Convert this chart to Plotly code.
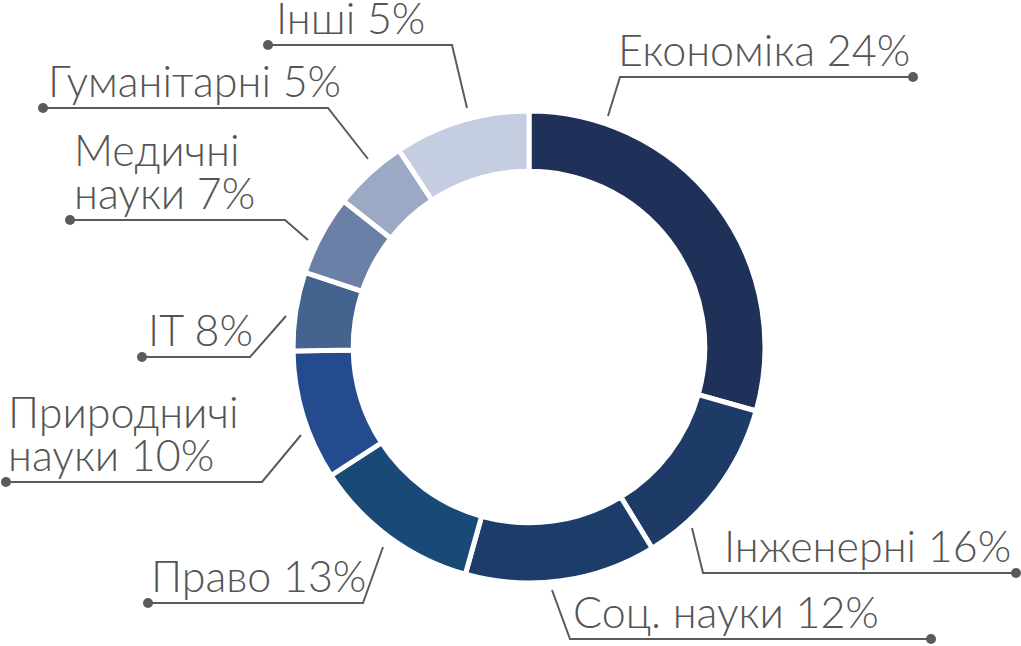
import plotly.graph_objects as go

# slice sizes as drawn (share of the ring) and the printed percentages
categories = ['Економіка', 'Інженерні', 'Соц. науки', 'Право', 'Природничі\nнауки',
              'IT', 'Медичні\nнауки', 'Гуманітарні', 'Інші']
slice_values = [29.4, 11.9, 13.1, 11.5, 8.9, 5.4, 5.5, 5.1, 9.3]
label_pct = [24, 16, 12, 13, 10, 8, 7, 5, 5]

colors = ['#1f3158', '#1d3b66', '#1c3d6a', '#194977', '#234b8e',
          '#44648f', '#6b80a7', '#9ba9c5', '#c5cde0']

W, H = 1021, 646
cx, cy, R = 529, 347, 236

# leader lines: start, elbow, end dot (pixels), label left x
leaders = [
    ((608, 116), (620, 77), (913, 77), 617),
    ((692, 528), (703, 573), (1016, 573), 723),
    ((552, 590), (570, 639), (931, 639), 572),
    ((383, 547), (363, 603), (148, 603), 150),
    ((301, 435), (262, 482), (6, 482), 7),
    ((286, 316), (250, 357), (142, 357), 147),
    ((308, 240), (285, 220), (70, 220), 73),
    ((368, 159), (328, 108), (43, 108), 47),
    ((467, 108), (452, 45), (268, 45), 275),
]

fig = go.Figure()

fig.add_trace(go.Pie(
    labels=[c.replace('\n', ' ') for c in categories],
    values=slice_values,
    hole=0.745,
    sort=False,
    direction='clockwise',
    rotation=0,
    textinfo='none',
    hoverinfo='label+percent',
    marker=dict(colors=colors, line=dict(color='white', width=5)),
    showlegend=False,
    domain=dict(x=[(cx - R) / W, (cx + R) / W],
                y=[(H - cy - R) / H, (H - cy + R) / H]),
))

line_col = '#5b5b5b'
font = dict(family='Lato, Open Sans, sans-serif', size=43, color='#555555', weight=300)

for cat, pct, (p0, p1, p2, tx) in zip(categories, label_pct, leaders):
    fig.add_trace(go.Scatter(
        x=[p0[0], p1[0], p2[0]], y=[p0[1], p1[1], p2[1]],
        mode='lines', line=dict(color=line_col, width=2),
        hoverinfo='skip', showlegend=False, cliponaxis=False))
    fig.add_trace(go.Scatter(
        x=[p2[0]], y=[p2[1]], mode='markers',
        marker=dict(color=line_col, size=10),
        hoverinfo='skip', showlegend=False, cliponaxis=False))
    lines = f'{cat} {pct}%'.split('\n')
    for i, txt in enumerate(reversed(lines)):
        fig.add_annotation(
            x=tx, y=p2[1] - 43 * i - 1, text=txt, showarrow=False,
            xanchor='left', yanchor='bottom', font=font, borderpad=0)

fig.update_xaxes(range=[0, W], visible=False, fixedrange=True)
fig.update_yaxes(range=[H, 0], visible=False, fixedrange=True)
fig.update_layout(
    width=W, height=H,
    margin=dict(l=0, r=0, t=0, b=0),
    paper_bgcolor='white', plot_bgcolor='white',
)

# drop the default page margin so the figure sits at the window corner
fig.write_html('out.html', config={'displayModeBar': False},
               post_script="document.body.style.margin='0';")
